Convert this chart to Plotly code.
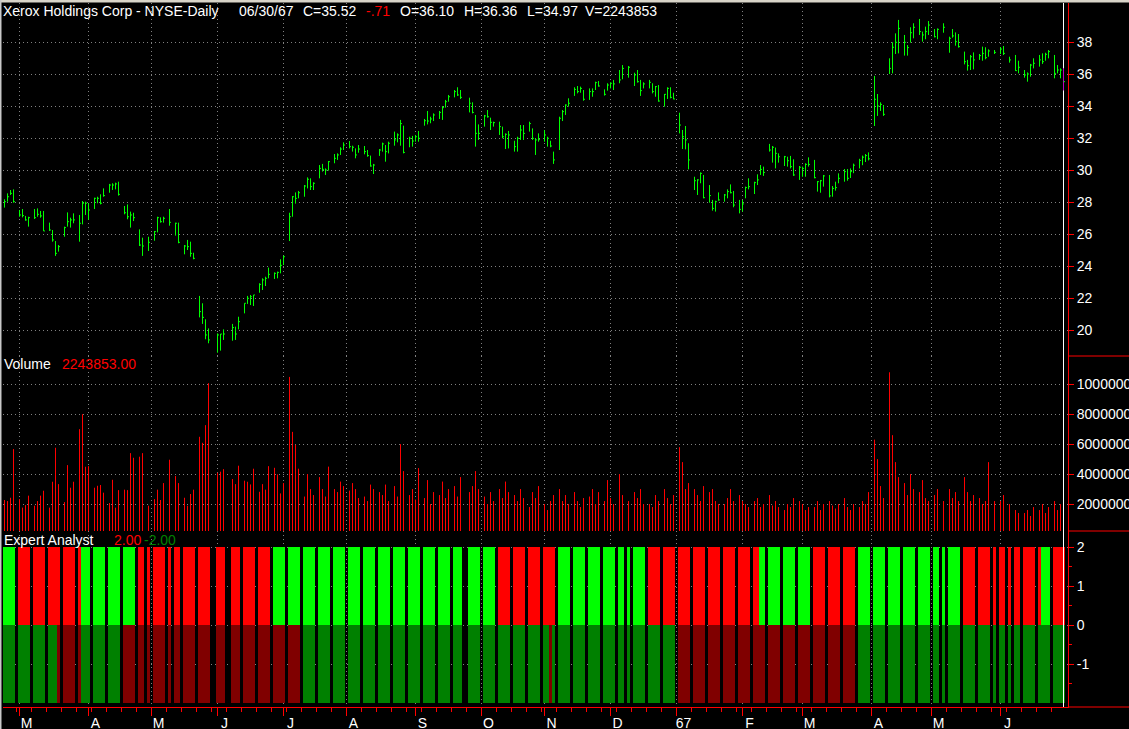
import pandas as pd
import plotly.graph_objects as go
from plotly.subplots import make_subplots

N = None
# one slot per weekday; the data source has no Monday rows (None)
SLOTS = pd.bdate_range("1966-02-22", "1967-06-30")

HIGH = [
    28.17, 28.54, 28.75, 28.79, N,  27.5, 27.56, 27.13, 27.08, N,  27.56, 27.6, 27.44, 27.44, N,
    26.71, 26.25, 25.56, 25.31, N,  26.46, 27.35, 27.02, 27.29, N,  27.19, 28.06, 28.02, 27.92, N,
    28.27, 28.33, 28.48, 28.85, N,  29.13, 29.17, 29.21, 29.27, N,  27.75, 27.85, 27.4, 27.33, N,
    26.29, 25.77, N, 25.83, N,      26.19, 27.08, 27.04, 27.08, N,  27.56, N, 26.71, 26.71, N,
    25.31, 25.63, 25.52, 24.83, N,  22.13, 21.67, 20.67, 20.1, N,   N, 19.79, 19.75, 20.04, N,
    N, 20.38, 20.21, 20.83, N,      21.67, 22.13, 22.19, 22.19, N,  22.92, 23.23, 23.33, 23.9, N,
    23.6, 23.65, 24.42, 24.65, N,   27.33, 28.37, 28.6, 28.69, N,   29.06, 29.54, 29.48, 29.23, N,
    30.31, 30.38, 30.1, 30.56, N,   31.0, 31.04, 31.42, 31.73, N,   31.81, 31.52, 31.35, 31.56, N,
    31.5, 31.25, 30.9, 30.38, N,    31.31, 31.71, 31.56, 31.77, N,  32.4, 32.29, 33.13, 32.77, N,
    32.08, 32.13, 32.19, 32.44, N,  33.19, 33.69, 33.33, 33.54, N,  33.69, 34.0, 34.38, 34.69, N,
    35.0, 35.17, 35.0, N, N,        34.52, 34.23, 33.44, 32.85, N,  33.44, 33.75, 33.27, 33.02, N,
    33.02, 32.71, 32.29, 32.44, N,  31.83, 32.08, 32.81, 32.81, N,  33.02, 32.6, 31.98, 32.29, N,
    32.5, 32.08, 31.83, 31.15, N,   33.33, 33.75, 34.1, 34.48, N,   35.17, 35.25, 35.21, 35.0, N,
    35.1, 35.1, 35.52, 35.56, N,    35.04, 35.42, 35.48, 35.63, N,  36.25, 36.56, N, 36.5, N,
    36.08, 36.25, 35.63, 35.48, N,  35.63, 35.42, 35.25, 35.31, N,  34.75, 35.17, 35.17, 34.83, N,
    33.58, 32.5, 32.75, 31.67, N,   29.58, 29.42, 29.85, 29.69, N,  29.06, 28.13, 28.08, 28.6, N,
    28.5, 28.79, 29.1, 28.69, N,    28.13, 28.13, 28.96, 29.48, N,  29.27, 29.73, 30.31, 30.21, N,
    31.63, 31.5, 31.4, 31.04, N,    30.88, 30.83, 30.88, 30.67, N,  30.25, 30.21, 30.42, 30.79, N,
    30.63, 29.31, 29.38, 29.69, N,  29.69, 29.0, 29.27, 29.79, N,   30.06, 30.06, 30.1, 30.4, N,
    30.7, 30.9, 31.0, 31.1, N,      35.88, 34.75, 34.23, 34.06, N,  36.98, 37.98, 38.54, 39.38, N,
    38.44, 37.81, 38.92, 39.17, N,  39.44, 38.65, 38.96, 39.31, N,  38.81, 38.85, N, 39.17, N,
    38.33, 38.81, 38.6, 38.5, N,    37.4, 36.88, 37.19, 37.35, N,   37.25, 37.71, 37.67, 37.54, N,
    37.5, N, 37.67, 37.75, N,       37.08, N, 37.19, 36.83, N,      36.25, 36.1, 36.63, 36.98, N,
    37.19, 37.29, 37.33, 37.5, N,   37.19, 36.56, 36.35, 36.36,
]
LOW = [
    27.65, 28.02, 28.44, 27.96, N,  27.08, 27.04, 26.83, 26.46, N,  26.94, 27.08, 27.02, 26.19, N,
    26.19, 25.52, 24.63, 24.9, N,   25.83, 26.46, 26.4, 26.67, N,   25.52, 26.6, 27.19, 26.88, N,
    27.56, 27.92, 27.85, 28.33, N,  28.58, 28.75, 28.79, 28.4, N,   27.23, 26.92, 26.4, 26.81, N,
    25.25, 24.63, N, 24.94, N,      25.58, 26.1, 26.71, 26.71, N,   26.52, N, 25.9, 25.42, N,
    24.73, 25.0, 24.58, 24.42, N,   20.79, 20.38, 19.42, 19.17, N,  N, 18.58, 18.71, 19.38, N,
    N, 19.33, 19.38, 20.04, N,      21.04, 21.63, 21.56, 21.5, N,   22.33, 22.5, 22.75, 23.23, N,
    23.19, 23.23, 23.54, 24.06, N,  25.56, 27.08, 27.9, 28.23, N,   28.33, 28.85, 28.75, 28.75, N,
    29.48, 29.9, 29.69, 29.96, N,   30.42, 30.63, 30.94, 31.25, N,  31.35, 31.15, 30.73, 31.08, N,
    30.98, 30.83, 30.21, 29.75, N,  30.88, 31.15, 30.52, 31.04, N,  31.52, 31.73, 31.52, 31.04, N,
    31.42, 31.46, 31.77, 31.77, N,  32.77, 32.85, 32.92, 33.06, N,  33.19, 33.13, 33.9, 34.27, N,
    34.54, 34.63, 34.44, N, N,      33.6, 33.54, 31.46, 31.88, N,   32.71, 33.27, 32.5, 32.71, N,
    32.19, 31.98, 31.31, 31.35, N,  31.15, 31.15, 31.88, 31.88, N,  32.4, 31.88, 30.94, 31.77, N,
    31.77, 31.46, 31.42, 30.38, N,  31.25, 33.06, 33.44, 33.96, N,  34.63, 34.79, 34.83, 34.33, N,
    34.38, 34.58, 35.0, 35.21, N,   34.65, 34.96, 35.1, 35.0, N,    35.42, 35.67, N, 35.77, N,
    35.25, 35.46, 34.63, 35.1, N,   35.1, 34.79, 34.58, 34.27, N,   33.96, 34.44, 34.48, 34.42, N,
    32.29, 31.31, 31.29, 30.04, N,  28.75, 28.44, 29.17, 28.23, N,  27.96, 27.46, 27.4, 28.08, N,
    28.02, 28.23, 28.54, 27.67, N,  27.29, 27.4, 28.23, 28.79, N,   28.5, 29.06, 29.69, 29.63, N,
    31.15, 30.46, 30.1, 30.46, N,   30.25, 30.21, 30.1, 29.63, N,   29.38, 29.58, 29.58, 30.21, N,
    29.48, 28.65, 28.58, 28.96, N,  28.29, 28.33, 28.71, 29.17, N,  29.27, 29.33, 29.5, 29.8, N,
    30.1, 30.3, 30.5, 30.6, N,      32.75, 33.38, 33.69, 33.38, N,  36.0, 36.04, 37.25, 37.29, N,
    37.15, 37.15, 37.96, 38.23, N,  38.44, 38.02, 38.17, 38.44, N,  38.29, 38.17, N, 38.58, N,
    37.33, 38.27, 37.77, 37.65, N,  36.6, 36.21, 36.25, 36.29, N,   36.88, 36.83, 36.92, 37.08, N,
    37.25, N, 37.25, 37.19, N,      36.71, N, 36.19, 36.04, N,      35.77, 35.52, 35.83, 36.35, N,
    36.46, 36.63, 36.83, 36.98, N,  35.73, 36.04, 35.73, 34.97,
]
CLOSE = [
    28.02, 28.33, 28.54, 28.02, N,  27.19, 27.15, 26.88, 27.02, N,  27.02, 27.23, 27.13, 26.19, N,
    26.25, 25.63, 24.79, 25.21, N,  26.4, 26.77, 26.88, 26.88, N,   26.67, 27.92, 27.92, 27.5, N,
    28.23, 28.23, 27.92, 28.4, N,   29.06, 29.06, 29.13, 28.48, N,  27.33, 27.08, 27.19, 27.02, N,
    25.31, 25.25, N, 25.48, N,      26.15, 27.02, 26.77, 26.98, N,  26.73, N, 26.67, 25.48, N,
    25.25, 25.21, 24.79, 24.48, N,  21.15, 20.79, 19.69, 19.38, N,  N, 19.69, 19.75, 19.75, N,
    N, 20.15, 19.75, 20.52, N,      21.67, 21.98, 22.08, 22.19, N,  22.85, 23.13, 23.23, 23.48, N,
    23.54, 23.6, 24.04, 24.58, N,   27.08, 28.33, 28.23, 28.58, N,  29.0, 29.42, 28.96, 29.17, N,
    30.1, 30.04, 30.0, 30.52, N,    30.73, 30.94, 31.31, 31.56, N,  31.46, 31.42, 30.94, 31.31, N,
    31.15, 30.9, 30.25, 30.31, N,   31.25, 31.63, 31.15, 31.67, N,  31.88, 32.19, 32.9, 31.1, N,
    31.98, 31.81, 32.08, 31.98, N,  33.08, 33.06, 33.19, 33.44, N,  33.6, 33.9, 34.27, 34.58, N,
    34.9, 34.69, 34.54, N, N,       34.17, 33.6, 32.29, 32.29, N,   33.38, 33.33, 32.98, 32.96, N,
    32.71, 32.08, 32.23, 32.19, N,  31.46, 31.98, 32.5, 32.29, N,   32.9, 31.98, 31.88, 31.9, N,
    32.19, 31.98, 31.5, 30.63, N,   33.23, 33.65, 34.06, 34.17, N,  35.04, 34.9, 35.1, 34.42, N,
    34.9, 34.9, 35.46, 35.25, N,    34.73, 35.31, 35.42, 35.38, N,  35.63, 36.35, N, 36.42, N,
    35.94, 35.52, 34.96, 35.38, N,  35.48, 34.9, 35.21, 34.31, N,   34.73, 35.1, 34.54, 34.44, N,
    32.81, 32.08, 31.88, 30.63, N,  29.33, 29.38, 29.79, 28.27, N,  28.4, 27.6, 28.02, 28.13, N,
    28.44, 28.65, 28.58, 27.81, N,  27.54, 27.88, 28.9, 28.96, N,   29.21, 29.38, 30.04, 29.85, N,
    31.25, 31.42, 31.04, 30.83, N,  30.83, 30.58, 30.21, 29.69, N,  30.17, 30.1, 30.35, 30.35, N,
    29.52, 29.27, 29.33, 29.63, N,  28.38, 28.85, 28.9, 29.48, N,   29.9, 29.48, 29.9, 30.3, N,
    30.6, 30.8, 30.9, 30.7, N,      34.42, 34.0, 34.1, 33.48, N,    36.35, 37.67, 37.98, 38.85, N,
    37.98, 37.65, 38.58, 38.92, N,  38.65, 38.44, 38.65, 39.06, N,  38.33, 38.79, N, 38.92, N,
    38.23, 38.38, 38.02, 37.71, N,  36.77, 36.52, 37.08, 36.88, N,  37.15, 37.29, 37.02, 37.44, N,
    37.35, N, 37.56, 37.29, N,      36.88, N, 36.21, 36.42, N,      35.94, 36.0, 36.56, 36.67, N,
    36.88, 36.77, 37.23, 37.4, N,   36.04, 36.25, 36.25, 35.52,
]
VOLUME_M = [
    2.27, 2.2, 2.42, 5.67, N,   2.33, 1.76, 1.93, 2.56, N,  1.89, 2.2, 2.56, 2.89, N,
    1.76, 3.49, 5.76, 3.33, N,  2.13, 4.6, 3.09, 3.49, N,   7.0, 8.0, 4.49, 4.53, N,
    3.09, 3.22, 3.27, 2.76, N,  2.07, 3.62, 1.76, 2.93, N,  2.96, 2.93, 5.4, 5.09, N,
    5.16, 5.4, N, 1.89, N,      2.33, 2.96, 2.27, 3.4, N,   4.96, N, 3.87, 3.4, N,
    2.42, 1.89, 2.67, 2.96, N,  6.49, 6.09, 7.27, 10.07, N, N, 4.09, 4.16, 4.33, N,
    N, 3.67, 3.33, 4.56, N,     3.56, 3.49, 3.31, 4.36, N,  2.82, 3.33, 2.96, 4.53, N,
    4.42, 3.98, 2.71, 3.4, N,   10.49, 6.82, 5.96, 4.36, N, 2.5, 4.0, 3.0, 2.6, N,
    3.8, 3.0, 2.5, 4.5, N,      3.0, 2.8, 3.5, 3.2, N,      2.9, 3.4, 3.0, 2.4, N,
    2.5, 2.2, 3.3, 3.0, N,      2.8, 2.6, 3.3, 2.2, N,      3.2, 2.5, 6.0, 4.2, N,
    2.6, 3.0, 2.3, 4.4, N,      2.4, 3.6, 2.0, 2.8, N,      2.6, 3.5, 2.4, 3.0, N,
    3.2, 2.5, 3.8, N, N,        2.8, 3.2, 4.2, 3.0, N,      2.5, 2.0, 2.8, 2.2, N,
    3.0, 2.4, 3.5, 2.8, N,      2.6, 2.2, 3.0, 2.4, N,      1.8, 2.8, 2.4, 3.2, N,
    2.0, 1.6, 2.2, 2.6, N,      3.0, 2.2, 2.6, 2.0, N,      2.8, 2.2, 1.8, 2.4, N,
    2.5, 3.0, 2.0, 2.8, N,      2.2, 3.6, 2.4, 2.0, N,      4.0, 2.6, N, 2.2, N,
    2.8, 2.4, 3.0, 2.0, N,      2.0, 1.8, 2.6, 2.2, N,      3.0, 2.4, 2.0, 2.6, N,
    5.8, 4.8, 3.0, 3.4, N,      3.0, 2.6, 2.2, 3.2, N,      2.8, 3.0, 2.2, 2.0, N,
    2.0, 2.4, 3.0, 2.2, N,      2.6, 2.2, 2.0, 1.8, N,      2.2, 2.4, 1.8, 2.0, N,
    2.6, 1.9, 2.2, 1.8, N,      1.6, 2.0, 1.8, 2.4, N,      2.2, 2.0, 1.6, 1.8, N,
    1.8, 2.2, 1.6, 2.0, N,      2.2, 1.9, 1.7, 2.0, N,      2.4, 1.8, 1.6, 2.0, N,
    1.8, 2.2, 2.0, 2.8, N,      6.3, 5.0, 3.2, 2.4, N,      10.8, 6.6, 4.8, 3.8, N,
    3.4, 2.6, 4.0, 3.0, N,      2.8, 3.6, 2.4, 2.2, N,      2.6, 3.0, N, 2.2, N,
    3.0, 2.4, 2.8, 2.2, N,      3.8, 2.8, 2.2, 2.6, N,      2.4, 2.0, 2.2, 4.8, N,
    2.2, N, 2.2, 2.6, N,        2.0, N, 1.6, 1.4, N,        1.4, 1.6, 1.2, 1.8, N,
    1.6, 2.0, 1.4, 1.8, N,      2.2, 1.6, 2.0, 2.243853,
]
# Expert Analyst state runs (state, number of weekday slots)
TOP_RUNS = [("buy", 4), ("sell", 22), ("buy", 18), ("sell", 46), ("buy", 74), ("sell", 20),
            ("buy", 31), ("sell", 37), ("buy", 17), ("sell", 16), ("buy", 34), ("sell", 27),
            ("buy", 3), ("sell", 5)]
BOTTOM_RUNS = [("buy", 18), ("sell", 8), ("buy", 13), ("sell", 60), ("buy", 83), ("sell", 1),
               ("buy", 41), ("sell", 61), ("buy", 69)]

PRICE_TICKS = [20, 22, 24, 26, 28, 30, 32, 34, 36, 38]
VOL_TICKS = [2000000, 4000000, 6000000, 8000000, 10000000]
ANALYST_TICKS = [-1, 0, 1, 2]
ANALYST_MINOR = [-1.5, -0.5, 0.5, 1.5]

TITLE = "Xerox Holdings Corp - NYSE-Daily"
HEADER = [("06/30/67", "#ffffff"), ("C=35.52", "#ffffff"), ("-.71", "#ff0000"),
          ("O=36.10", "#ffffff"), ("H=36.36", "#ffffff"), ("L=34.97", "#ffffff"),
          ("V=2243853", "#ffffff")]

FONT = "Liberation Sans, Arial, sans-serif"
W, H = 1129, 729
L, R, T, B = 3, 61, 3, 22
PW, PH = W - L - R, H - T - B


def expand(runs):
    out = []
    for state, n in runs:
        out += [state] * n
    return out


n_slots = len(SLOTS)
xs = list(range(n_slots))
present = [k for k in xs if HIGH[k] is not None]
last = present[-1]
top_state = expand(TOP_RUNS)
bot_state = expand(BOTTOM_RUNS)

# month ticks
month_idx, month_lab = [], []
for k in range(1, n_slots):
    if SLOTS[k].month != SLOTS[k - 1].month:
        month_idx.append(k)
        d = SLOTS[k]
        month_lab.append(d.strftime("%y") if d.month == 1 else d.strftime("%b")[0])
mondays = [k for k in xs if SLOTS[k].weekday() == 0]

fig = make_subplots(rows=3, cols=1, shared_xaxes=True, vertical_spacing=0,
                    row_heights=[353, 175, 176])

# ---- price bars (HLC)
bx, by, tx, ty = [], [], [], []
for k in present[:-1]:
    bx += [k, k, None]
    by += [LOW[k], HIGH[k], None]
    tx += [k, k + 0.5, None]
    ty += [CLOSE[k], CLOSE[k], None]
fig.add_trace(go.Scatter(x=bx, y=by, mode="lines", line=dict(color="#00ff00", width=1),
                         hoverinfo="skip"), row=1, col=1)
fig.add_trace(go.Scatter(x=tx, y=ty, mode="lines", line=dict(color="#00ff00", width=1),
                         hoverinfo="skip"), row=1, col=1)
PRICE_RANGE = [18.375, 40.4375]
fig.add_trace(go.Scatter(x=[last, last], y=PRICE_RANGE, mode="lines",
                         line=dict(color="#ffffff", width=1), hoverinfo="skip"), row=1, col=1)
fig.add_trace(go.Scatter(x=[last, last], y=[LOW[last], HIGH[last]], mode="lines",
                         line=dict(color="#c000c0", width=1), hoverinfo="skip"), row=1, col=1)
fig.add_trace(go.Scatter(x=[last, last + 0.5], y=[CLOSE[last], CLOSE[last]], mode="lines",
                         line=dict(color="#00ff00", width=1), hoverinfo="skip"), row=1, col=1)

# ---- volume
vx, vy = [], []
for k in present:
    vx += [k, k, None]
    vy += [0, VOLUME_M[k] * 1e6, None]
VOL_RANGE = [0.2e6, 11.887e6]
fig.add_trace(go.Scatter(x=vx, y=vy, mode="lines", line=dict(color="#ff0000", width=1),
                         hoverinfo="skip"), row=2, col=1)
fig.add_trace(go.Scatter(x=[last, last], y=VOL_RANGE, mode="lines",
                         line=dict(color="#ffffff", width=1), hoverinfo="skip"), row=2, col=1)

# ---- expert analyst
top_col = {"buy": "#00ff00", "sell": "#ff0000"}
bot_col = {"buy": "#008000", "sell": "#800000"}
fig.add_trace(go.Bar(x=present, y=[2] * len(present), base=0, width=1,
                     marker=dict(color=[top_col[top_state[k]] for k in present], line=dict(width=0)),
                     hoverinfo="skip"), row=3, col=1)
fig.add_trace(go.Bar(x=present, y=[-2] * len(present), base=0, width=1,
                     marker=dict(color=[bot_col[bot_state[k]] for k in present], line=dict(width=0)),
                     hoverinfo="skip"), row=3, col=1)
AN_RANGE = [-2.095, 2.418]
fig.add_trace(go.Scatter(x=[last, last], y=AN_RANGE, mode="lines",
                         line=dict(color="#ffffff", width=1), hoverinfo="skip"), row=3, col=1)

grid = dict(showgrid=True, gridcolor="#808080", gridwidth=1, griddash="1px,3px")
xcommon = dict(range=[-0.5, n_slots + 0.5], tickmode="array", tickvals=month_idx,
               zeroline=False, automargin=False, **grid)
fig.update_xaxes(showticklabels=False, ticks="", **xcommon, row=1, col=1)
fig.update_xaxes(showticklabels=False, ticks="", **xcommon, row=2, col=1)
fig.update_xaxes(ticktext=month_lab, ticks="outside", ticklen=8, tickwidth=1, tickcolor="#ff0000",
                 showline=True, linecolor="#ff0000", linewidth=1,
                 tickfont=dict(color="#ffffff", size=14, family=FONT), ticklabelshift=7,
                 ticklabelstandoff=-5,
                 minor=dict(tickmode="array", tickvals=mondays, ticks="outside", ticklen=4,
                            tickcolor="#ff0000", showgrid=False),
                 **xcommon, row=3, col=1)

yfont = dict(color="#ffffff", size=14, family=FONT)
ycommon = dict(side="right", ticks="outside", ticklen=5, tickcolor="#ff0000", tickwidth=1,
               showline=True, linecolor="#ff0000", linewidth=1, zeroline=False,
               automargin=False, tickfont=yfont, tickmode="array", **grid)
fig.update_yaxes(range=PRICE_RANGE, tickvals=PRICE_TICKS, ticktext=[str(v) for v in PRICE_TICKS],
                 **ycommon, row=1, col=1)
fig.update_yaxes(range=VOL_RANGE, tickvals=VOL_TICKS, ticktext=[str(v) for v in VOL_TICKS],
                 **ycommon, row=2, col=1)
fig.update_yaxes(range=AN_RANGE, tickvals=ANALYST_TICKS, ticktext=[str(v) for v in ANALYST_TICKS],
                 minor=dict(tickmode="array", tickvals=ANALYST_MINOR, ticks="outside", ticklen=3,
                            tickcolor="#ff0000", showgrid=False),
                 **ycommon, row=3, col=1)


def px_x(p):
    return (p - L) / PW


def px_y(p):
    return (H - B - p) / PH


def ann(text, x, y, color="#ffffff"):
    return dict(text=text, x=px_x(x), y=px_y(y), xref="paper", yref="paper",
                xanchor="left", yanchor="middle", showarrow=False, borderpad=0,
                font=dict(color=color, size=14, family=FONT))


header_x = [239, 303, 366, 400, 464, 527, 585]
anns = [ann(TITLE, 2, 11)]
for (txt, col), hx in zip(HEADER, header_x):
    anns.append(ann(txt, hx - 1, 11, col))
anns += [ann("Volume", 3, 364), ann(f"{VOLUME_M[last] * 1e6:.2f}", 61, 364, "#ff0000"),
         ann("Expert Analyst", 3, 540), ann("2.00", 113, 540, "#ff0000"),
         ann("-2.00", 143, 540, "#008000")]

shapes = [
    # right-side panel separators
    dict(type="line", xref="paper", yref="paper", x0=1, x1=px_x(W + 2), y0=px_y(356), y1=px_y(356),
         line=dict(color="#ff0000", width=1)),
    dict(type="line", xref="paper", yref="paper", x0=1, x1=px_x(W + 2), y0=px_y(531), y1=px_y(531),
         line=dict(color="#ff0000", width=1)),
    dict(type="line", xref="paper", yref="paper", x0=1, x1=px_x(W + 2), y0=0, y1=0,
         line=dict(color="#ff0000", width=1)),
    # window chrome strips
    dict(type="rect", xref="paper", yref="paper", x0=px_x(-2), x1=px_x(W + 2), y0=px_y(2.5), y1=px_y(-2),
         fillcolor="#d8d4c8", line=dict(width=0)),
    dict(type="rect", xref="paper", yref="paper", x0=px_x(-2), x1=px_x(1.5), y0=px_y(H + 2), y1=px_y(0),
         fillcolor="#c8c8c8", line=dict(width=0)),
]

fig.update_layout(width=W, height=H, margin=dict(l=L, r=R, t=T, b=B, pad=0, autoexpand=False),
                  paper_bgcolor="#000000", plot_bgcolor="#000000", showlegend=False,
                  barmode="overlay", bargap=0, annotations=anns, shapes=shapes,
                  hovermode=False)

fig.write_html("out.html", config={"displayModeBar": False},
               post_script="document.body.style.margin='0px';document.body.style.background='#000';")
